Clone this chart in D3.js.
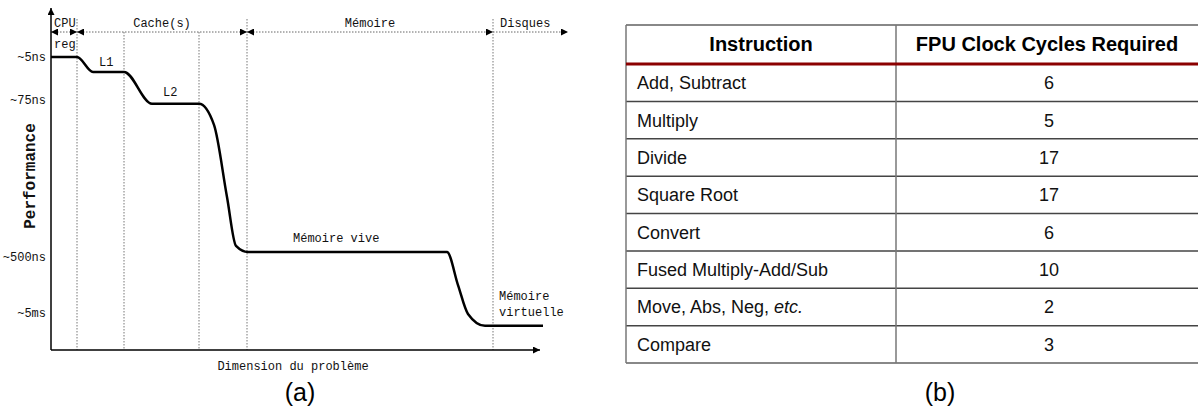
<!DOCTYPE html>
<html lang="en">
<head>
  <meta charset="UTF-8">
  <title>Performance vs dimension / FPU cycles</title>
  <script src="https://cdn.jsdelivr.net/npm/d3@7"></script>
  <style>
    body { margin: 0; background: #fff; }
    svg { display: block; }
  </style>
</head>
<body>
  <svg id="fig" width="1198" height="414"></svg>
  <script>
    // --- panel (a): memory hierarchy curve (arbitrary units 0..100) ---
    const dimension   = [0, 5.2, 8.4, 14.6, 20.2, 29.6, 32.6, 35.2, 37, 39.4, 79.2, 81.4, 83.4, 86.8, 98.4];
    const performance = [86.2, 86.2, 81.8, 81.8, 72.4, 72.4, 66.2, 45, 30.6, 28.8, 28.8, 19.1, 10.6, 7.1, 7.1];
    const tickLabels = ["~5ns", "~75ns", "~500ns", "~5ms"];
    const tickValues = [86.2, 73.5, 27.4, 10.9];
    const dividers = [5.2, 14.6, 29.6, 39.2, 88.4];   // vertical dotted lines
    const majorDividers = [5.2, 39.2, 88.4];           // the ones reaching above the header line
    const levels = ["CPU", "Cache(s)", "Mémoire", "Disques"];
    const levelStart = [0, 5.2, 39.2, 88.4];
    const levelEnd = [5.2, 39.2, 88.4, 103.4];
    const curveLabels = ["reg", "L1", "L2", "Mémoire vive"];
    const curveLabelX = [0.6, 9.6, 22.4, 48.4];
    const curveLabelY = [88.8, 83.5, 74.7, 31.8];

    // --- panel (b): table ---
    const instructions = ["Add, Subtract", "Multiply", "Divide", "Square Root", "Convert",
                          "Fused Multiply-Add/Sub", "Move, Abs, Neg, etc.", "Compare"];
    const cycles = [6, 5, 17, 17, 6, 10, 2, 3];
    const headers = ["Instruction", "FPU Clock Cycles Required"];

    const svg = d3.select("#fig");
    const mono = "'Liberation Mono', 'Courier New', monospace";
    const sans = "'Liberation Sans', Arial, Helvetica, sans-serif";

    const defs = svg.append("defs");
    defs.append("marker")
      .attr("id", "arrow")
      .attr("viewBox", "0 0 10 10")
      .attr("refX", 10).attr("refY", 5)
      .attr("markerWidth", 9).attr("markerHeight", 7)
      .attr("markerUnits", "userSpaceOnUse")
      .attr("orient", "auto-start-reverse")
      .append("path").attr("d", "M0,0L10,5L0,10Z").attr("fill", "#000");

    const x = d3.scaleLinear().domain([0, 100]).range([51, 551]);
    const y = d3.scaleLinear().domain([0, 100]).range([350, 10]);

    const a = svg.append("g");

    // vertical dotted separators
    a.selectAll("line.div")
      .data(dividers)
      .join("line")
      .attr("class", "div")
      .attr("x1", d => x(d)).attr("x2", d => x(d))
      .attr("y1", d => majorDividers.includes(d) ? 19 : 32)
      .attr("y2", y(0))
      .attr("stroke", "#777")
      .attr("stroke-width", 1)
      .attr("stroke-dasharray", "1.5,1.5");

    // header ranges with arrows
    const headerY = 32;
    a.selectAll("line.range")
      .data(levels)
      .join("line")
      .attr("class", "range")
      .attr("x1", (d, i) => x(levelStart[i]))
      .attr("x2", (d, i) => x(levelEnd[i]))
      .attr("y1", headerY).attr("y2", headerY)
      .attr("stroke", "#666")
      .attr("stroke-width", 1)
      .attr("stroke-dasharray", "1.5,1.5")
      .attr("marker-start", (d, i) => i === 3 ? null : "url(#arrow)")
      .attr("marker-end", "url(#arrow)");

    a.selectAll("text.level")
      .data(levels)
      .join("text")
      .attr("class", "level")
      .attr("x", (d, i) => i === 0 ? x(levelStart[i]) + 3 : (i === 3 ? x(levelStart[i]) + 7 : (x(levelStart[i]) + x(levelEnd[i])) / 2))
      .attr("y", 27)
      .attr("text-anchor", (d, i) => i === 0 || i === 3 ? "start" : "middle")
      .attr("font-family", mono)
      .attr("font-size", 12)
      .attr("fill", "#111")
      .text(d => d);

    // axes
    a.append("line")
      .attr("x1", x(0)).attr("x2", x(0))
      .attr("y1", y(0)).attr("y2", 8)
      .attr("stroke", "#000").attr("stroke-width", 1.5)
      .attr("marker-end", "url(#arrow)");
    a.append("line")
      .attr("x1", x(0)).attr("x2", x(97.8))
      .attr("y1", y(0)).attr("y2", y(0))
      .attr("stroke", "#000").attr("stroke-width", 1.5)
      .attr("marker-end", "url(#arrow)");

    const yAxis = d3.axisLeft(y)
      .tickValues(tickValues)
      .tickFormat((d, i) => tickLabels[i])
      .tickSize(0)
      .tickPadding(5);
    const yg = a.append("g").attr("transform", `translate(${x(0)},0)`).call(yAxis);
    yg.select(".domain").remove();
    yg.selectAll("text")
      .attr("font-family", mono)
      .attr("font-size", 12)
      .attr("fill", "#111");

    a.append("text")
      .attr("transform", `translate(35,176) rotate(-90)`)
      .attr("text-anchor", "middle")
      .attr("font-family", mono)
      .attr("font-weight", "bold")
      .attr("font-size", 16)
      .attr("fill", "#111")
      .text("Performance");

    a.append("text")
      .attr("x", 293).attr("y", 370)
      .attr("text-anchor", "middle")
      .attr("font-family", mono)
      .attr("font-size", 12)
      .attr("fill", "#111")
      .text("Dimension du problème");

    // the curve
    const pts = dimension.map((d, i) => [d, performance[i]]);
    const line = d3.line()
      .x(d => x(d[0]))
      .y(d => y(d[1]))
      .curve(d3.curveMonotoneX);
    a.append("path")
      .datum(pts)
      .attr("d", line)
      .attr("fill", "none")
      .attr("stroke", "#000")
      .attr("stroke-width", 2.5);

    a.selectAll("text.clab")
      .data(curveLabels)
      .join("text")
      .attr("class", "clab")
      .attr("x", (d, i) => x(curveLabelX[i]))
      .attr("y", (d, i) => y(curveLabelY[i]))
      .attr("font-family", mono)
      .attr("font-size", 12)
      .attr("fill", "#111")
      .text(d => d);

    const virt = a.append("text")
      .attr("font-family", mono)
      .attr("font-size", 12)
      .attr("fill", "#111");
    virt.append("tspan").attr("x", x(89.6)).attr("y", 300).text("Mémoire");
    virt.append("tspan").attr("x", x(89.6)).attr("y", 316).text("virtuelle");

    a.append("text")
      .attr("x", 300).attr("y", 401)
      .attr("text-anchor", "middle")
      .attr("font-family", sans)
      .attr("font-size", 25)
      .attr("fill", "#000")
      .text("(a)");

    // --- panel (b) table ---
    const tLeft = 626, tDiv = 896, tRight = 1208, tTop = 25, tHead = 64, tBottom = 363;
    const rows = d3.scaleBand().domain(instructions).range([tHead, tBottom]);
    const b = svg.append("g");

    // row separators
    b.selectAll("line.row")
      .data(instructions.slice(1))
      .join("line")
      .attr("class", "row")
      .attr("x1", tLeft).attr("x2", tRight)
      .attr("y1", d => rows(d)).attr("y2", d => rows(d))
      .attr("stroke", "#444").attr("stroke-width", 1.5);

    // outer frame + column divider
    b.append("line").attr("x1", tLeft).attr("x2", tRight).attr("y1", tTop).attr("y2", tTop)
      .attr("stroke", "#888").attr("stroke-width", 2);
    b.append("line").attr("x1", tLeft).attr("x2", tRight).attr("y1", tBottom).attr("y2", tBottom)
      .attr("stroke", "#888").attr("stroke-width", 2);
    b.append("line").attr("x1", tLeft).attr("x2", tLeft).attr("y1", tTop).attr("y2", tBottom)
      .attr("stroke", "#777").attr("stroke-width", 1.5);
    b.append("line").attr("x1", tDiv).attr("x2", tDiv).attr("y1", tTop).attr("y2", tBottom)
      .attr("stroke", "#777").attr("stroke-width", 1.5);
    b.append("line").attr("x1", tLeft).attr("x2", tRight).attr("y1", tHead).attr("y2", tHead)
      .attr("stroke", "#8b0000").attr("stroke-width", 3);

    const colCenter = [(tLeft + tDiv) / 2, (tDiv + tRight) / 2 - 5];
    b.selectAll("text.head")
      .data(headers)
      .join("text")
      .attr("class", "head")
      .attr("x", (d, i) => colCenter[i])
      .attr("y", 51)
      .attr("text-anchor", "middle")
      .attr("font-family", sans)
      .attr("font-weight", "bold")
      .attr("font-size", 20)
      .attr("fill", "#000")
      .text(d => d);

    const inst = b.selectAll("text.inst")
      .data(instructions)
      .join("text")
      .attr("class", "inst")
      .attr("x", tLeft + 11)
      .attr("y", d => rows(d) + rows.bandwidth() / 2 + 6.5)
      .attr("font-family", sans)
      .attr("font-size", 18)
      .attr("fill", "#111");
    inst.each(function(d) {
      const t = d3.select(this);
      if (d.endsWith("etc.")) {
        t.append("tspan").text(d.slice(0, -4));
        t.append("tspan").attr("font-style", "italic").text("etc.");
      } else {
        t.text(d);
      }
    });

    b.selectAll("text.cyc")
      .data(cycles)
      .join("text")
      .attr("class", "cyc")
      .attr("x", colCenter[1] + 2)
      .attr("y", (d, i) => rows(instructions[i]) + rows.bandwidth() / 2 + 6.5)
      .attr("text-anchor", "middle")
      .attr("font-family", sans)
      .attr("font-size", 18)
      .attr("fill", "#111")
      .text(d => d);

    b.append("text")
      .attr("x", 940).attr("y", 401)
      .attr("text-anchor", "middle")
      .attr("font-family", sans)
      .attr("font-size", 25)
      .attr("fill", "#000")
      .text("(b)");
  </script>
</body>
</html>
